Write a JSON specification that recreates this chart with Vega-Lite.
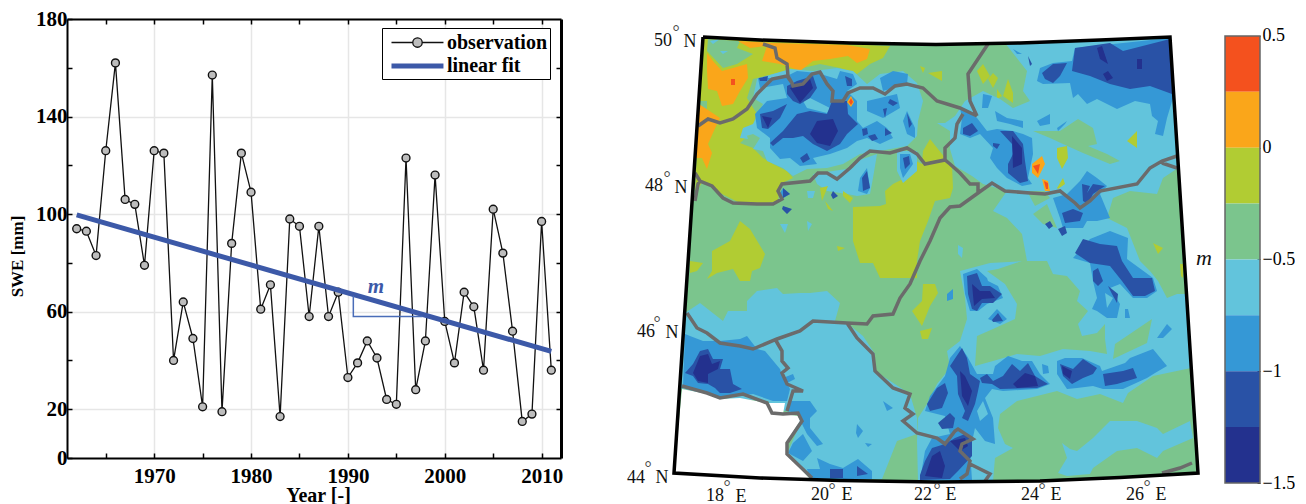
{"$schema":"https://vega.github.io/schema/vega-lite/v6.json","padding":{"left":8,"top":8,"right":0,"bottom":0},"config":{"font":"Liberation Serif","view":{"stroke":null},"axis":{"labelFont":"Liberation Serif","titleFont":"Liberation Serif","labelColor":"#000","titleColor":"#000"}},"spacing":5,"hconcat":[
{"width":494,"height":439,"resolve":{"axis":{"x":"independent","y":"independent"}},"layer":[
{"data":{"name":"obs"},"mark":{"type":"line","color":"#111","strokeWidth":1.3},"encoding":{"x":{"field":"year","type":"quantitative","scale":{"domain":[1961,2012],"nice":false,"zero":false},"axis":{"orient":"bottom","values":[1965,1970,1975,1980,1985,1990,1995,2000,2005,2010],"format":"d","labelExpr":"datum.value%10===0?datum.label:''","title":"Year [-]","titleFontSize":20,"titleFontWeight":"bold","titleX":251,"titleY":27,"labelFontSize":21,"labelFontWeight":"bold","labelPadding":12,"labelOverlap":false,"labelFlush":false,"tickSize":-5,"tickColor":"#000","tickWidth":1.5,"domainColor":"#000","domainWidth":2,"grid":true,"gridColor":"#e6e6e6","gridWidth":1.5,"gridOpacity":{"condition":{"test":"datum.value%10===0","value":1},"value":0}}},"y":{"field":"swe","type":"quantitative","scale":{"domain":[0,180],"nice":false},"axis":{"orient":"left","values":[0,20,40,60,80,100,120,140,160,180],"labelExpr":"datum.value===0||(datum.value-20)%40===0?datum.label:''","title":"SWE [mm]","titleFontSize":17,"titleFontWeight":"bold","titleX":-41,"titleY":237,"labelFontSize":21,"labelFontWeight":"bold","labelPadding":5,"labelOverlap":false,"tickSize":-5,"tickColor":"#000","tickWidth":1.5,"domainColor":"#000","domainWidth":2,"grid":true,"gridColor":"#e6e6e6","gridWidth":1.5,"gridOpacity":{"condition":{"test":"(datum.value-20)%40===0","value":1},"value":0}}}}},
{"data":{"name":"obs"},"mark":{"type":"point","filled":true,"fill":"#BDBDBD","stroke":"#111","strokeWidth":1.4,"opacity":1,"size":62},"encoding":{"x":{"field":"year","type":"quantitative","axis":null},"y":{"field":"swe","type":"quantitative","axis":null}}},
{"data":{"values":[{"year":1962,"swe":99.7},{"year":2011,"swe":43.7}]},"mark":{"type":"line","color":"#3C59A8","strokeWidth":5},"encoding":{"x":{"field":"year","type":"quantitative","axis":{"orient":"top","title":null,"values":[1965,1970,1975,1980,1985,1990,1995,2000,2005,2010],"labels":false,"tickSize":-5,"tickColor":"#000","tickWidth":1.5,"domainColor":"#000","domainWidth":2,"grid":false}},"y":{"field":"swe","type":"quantitative","axis":{"orient":"right","title":null,"values":[20,40,60,80,100,120,140,160],"labels":false,"tickSize":-5,"tickColor":"#000","tickWidth":1.5,"domainColor":"#000","domainWidth":3,"grid":false}}}},
{"data":{"values":[{"year":1990.56,"swe":66.5,"k":0},{"year":1990.56,"swe":58,"k":1},{"year":1997.7,"swe":58,"k":2}]},"mark":{"type":"line","color":"#4A6DB8","strokeWidth":1.5},"encoding":{"x":{"field":"year","type":"quantitative","axis":null},"y":{"field":"swe","type":"quantitative","axis":null},"order":{"field":"k"}}},
{"data":{"values":[{"year":1992.9,"swe":70,"t":"m"}]},"mark":{"type":"text","fontStyle":"italic","fontWeight":"bold","fontSize":21,"color":"#3C59A8"},"encoding":{"x":{"field":"year","type":"quantitative","axis":null},"y":{"field":"swe","type":"quantitative","axis":null},"text":{"field":"t"}}},
{"data":{"values":[]},"mark":{"type":"point","filled":true,"opacity":1},"encoding":{
"shape":{"field":"s","type":"nominal","scale":{"domain":["observation","linear fit"],"range":["M-.62,0H1.407A.45 .45 0 1 1 2.307 0A.45 .45 0 1 1 1.407 0M2.307,0H4.33","M-.62,0H4.33"]},"legend":{"title":null,"orient":"none","legendX":315,"legendY":9,"padding":3,"labelFontSize":20,"labelFontWeight":"bold","labelFont":"Liberation Serif","labelOffset":36,"symbolSize":441,"rowPadding":0,"fillColor":"#fff","strokeColor":"#000","labelColor":"#000"}},
"fill":{"field":"s","type":"nominal","scale":{"domain":["observation","linear fit"],"range":["#BDBDBD","#3C59A8"]},"legend":{"title":null,"orient":"none","legendX":315,"legendY":9,"padding":3,"labelFontSize":20,"labelFontWeight":"bold","labelFont":"Liberation Serif","labelOffset":36,"symbolSize":441,"rowPadding":0,"fillColor":"#fff","strokeColor":"#000","labelColor":"#000"}},
"stroke":{"field":"s","type":"nominal","scale":{"domain":["observation","linear fit"],"range":["#111","#3C59A8"]},"legend":{"title":null,"orient":"none","legendX":315,"legendY":9,"padding":3,"labelFontSize":20,"labelFontWeight":"bold","labelFont":"Liberation Serif","labelOffset":36,"symbolSize":441,"rowPadding":0,"fillColor":"#fff","strokeColor":"#000","labelColor":"#000"}},
"strokeWidth":{"field":"s","type":"nominal","scale":{"domain":["observation","linear fit"],"range":[1.3,5]},"legend":{"title":null,"orient":"none","legendX":315,"legendY":9,"padding":3,"labelFontSize":20,"labelFontWeight":"bold","labelFont":"Liberation Serif","labelOffset":36,"symbolSize":441,"rowPadding":0,"fillColor":"#fff","strokeColor":"#000","labelColor":"#000"}}}}
]},
{"width":651,"height":484,"projection":{"type":"identity","scale":1,"translate":[-568,-18]},"layer":[
{"data":{"name":"fills"},"mark":{"type":"geoshape","strokeWidth":0},"encoding":{"color":{"field":"properties.b","type":"nominal","legend":null,"scale":{"domain":["no data","0.25 to 0.5","0 to 0.25","-0.25 to 0","-0.5 to -0.25","-0.75 to -0.5","-1 to -0.75","-1.25 to -1","-1.5 to -1.25"],"range":["#FFFFFF","#F4511E","#FAA61A","#B1CC33","#7BC58D","#62C4DC","#3598D6","#2952A6","#23318E"]}}}},
{"data":{"values":[{"type":"Feature","properties":{},"geometry":{"type":"MultiLineString","coordinates":[
[[698,125],[708,118],[720,122],[733,118],[747,108],[757,93],[772,78],[787,75],[792,82],[793,85],[803,83],[812,73],[820,71],[827,83],[833,90],[832,100],[843,100],[848,92],[860,87],[873,87],[885,93],[895,85],[907,83],[923,87],[937,100],[960,107],[977,115]],
[[763,43],[775,47],[777,57],[787,63],[788,75],[792,82]],
[[988,43],[968,73],[970,100],[977,115]],
[[963,113],[957,123],[955,137],[945,147],[945,159]],
[[695,172],[700,180],[712,185],[723,197],[733,202],[757,203],[773,203],[782,198],[778,190],[782,183],[810,180],[818,172],[827,172],[837,178],[850,167],[860,157],[870,150],[890,152],[907,147],[917,153],[925,163],[945,159],[950,163],[960,172],[970,183],[978,183],[978,192],[960,205],[950,206],[940,217],[930,240],[920,260],[910,283],[900,297],[893,313],[873,315],[867,323],[847,322],[813,320],[800,330],[777,338],[753,348],[740,345],[720,342],[707,332],[697,327],[687,312]],
[[695,200],[698,183],[700,180]],
[[847,322],[857,337],[873,353],[875,370],[893,387],[910,393],[905,407],[913,413],[903,420],[917,432],[937,437],[945,443],[955,430],[958,428],[973,438],[962,443],[960,450],[970,460],[967,473],[960,478]],
[[970,463],[990,473],[985,480]],
[[775,338],[782,350],[782,360],[788,367],[782,372],[787,383],[803,390],[793,390],[787,410]],
[[682,385],[707,392],[720,397],[743,393],[767,402],[772,412],[783,413],[798,412],[802,420],[787,442],[787,453],[812,477]],
[[978,192],[992,182],[1005,190],[1030,192],[1045,193],[1060,190],[1075,202],[1080,207],[1090,200],[1100,190],[1137,183],[1150,167],[1162,160],[1177,155]],
[[1162,162],[1177,167]],
[[1162,472],[1180,467],[1192,462]]]}}]},"mark":{"type":"geoshape","filled":false,"stroke":"#6B6B6B","strokeWidth":3.5}},
{"data":{"values":[{"type":"Feature","properties":{},"geometry":{"type":"LineString","coordinates":[[703,36],[760,39],[850,42],[936,43.5],[1020,42],[1100,39],[1170,36],[1198,472],[1120,476.5],[1040,480],[936,481],[840,479.5],[760,477],[674,472],[703,36]]}}]},"mark":{"type":"geoshape","filled":false,"stroke":"#000","strokeWidth":3.5}},
{"data":{"name":"labels"},"mark":{"type":"text","fontSize":18,"color":"#111"},"encoding":{"longitude":{"field":"px","type":"quantitative"},"latitude":{"field":"py","type":"quantitative"},"text":{"field":"t"}}},
{"data":{"name":"degrees"},"mark":{"type":"text","fontSize":18,"color":"#444","baseline":"alphabetic","dy":10},"encoding":{"longitude":{"field":"px","type":"quantitative"},"latitude":{"field":"py","type":"quantitative"},"text":{"field":"t"}}},
{"data":{"values":[{"px":1204,"py":257,"t":"m"}]},"mark":{"type":"text","fontSize":22,"fontStyle":"italic","color":"#111"},"encoding":{"longitude":{"field":"px","type":"quantitative"},"latitude":{"field":"py","type":"quantitative"},"text":{"field":"t"}}}
]},
{"width":35,"height":464,"layer":[
{"data":{"name":"bar"},"mark":{"type":"rect","stroke":null},"encoding":{"x":{"value":0},"x2":{"value":35},"y":{"field":"lo","type":"quantitative","scale":{"domain":[-1.5,0.576],"nice":false,"zero":false},"axis":{"orient":"right","values":[0.5,0,-0.5,-1,-1.5],"format":"~g","title":null,"labelFontSize":18,"labelPadding":5,"domain":false,"tickSize":-3,"tickColor":"#111","grid":false,"labelOverlap":false}},"y2":{"field":"hi"},"color":{"field":"band","type":"nominal","legend":null,"scale":{"domain":["0.25 to 0.5","0 to 0.25","-0.25 to 0","-0.5 to -0.25","-0.75 to -0.5","-1 to -0.75","-1.25 to -1","-1.5 to -1.25"],"range":["#F4511E","#FAA61A","#B1CC33","#7BC58D","#62C4DC","#3598D6","#2952A6","#23318E"]}}}},
{"data":{"values":[{"lo":-1.5,"hi":0.5}]},"mark":{"type":"rect","fillOpacity":0,"stroke":"#666","strokeWidth":1.5},"encoding":{"x":{"value":0},"x2":{"value":35},"y":{"field":"lo","type":"quantitative"},"y2":{"field":"hi"}}}
]}
],
"datasets":{
"obs":[{"year":1962,"swe":94},{"year":1963,"swe":93},{"year":1964,"swe":83},{"year":1965,"swe":126},{"year":1966,"swe":162},{"year":1967,"swe":106},{"year":1968,"swe":104},{"year":1969,"swe":79},{"year":1970,"swe":126},{"year":1971,"swe":125},{"year":1972,"swe":40},{"year":1973,"swe":64},{"year":1974,"swe":49},{"year":1975,"swe":21},{"year":1976,"swe":157},{"year":1977,"swe":19},{"year":1978,"swe":88},{"year":1979,"swe":125},{"year":1980,"swe":109},{"year":1981,"swe":61},{"year":1982,"swe":71},{"year":1983,"swe":17},{"year":1984,"swe":98},{"year":1985,"swe":95},{"year":1986,"swe":58},{"year":1987,"swe":95},{"year":1988,"swe":58},{"year":1989,"swe":68},{"year":1990,"swe":33},{"year":1991,"swe":39},{"year":1992,"swe":48},{"year":1993,"swe":41},{"year":1994,"swe":24},{"year":1995,"swe":22},{"year":1996,"swe":123},{"year":1997,"swe":28},{"year":1998,"swe":48},{"year":1999,"swe":116},{"year":2000,"swe":56},{"year":2001,"swe":39},{"year":2002,"swe":68},{"year":2003,"swe":62},{"year":2004,"swe":36},{"year":2005,"swe":102},{"year":2006,"swe":84},{"year":2007,"swe":52},{"year":2008,"swe":15},{"year":2009,"swe":18},{"year":2010,"swe":97},{"year":2011,"swe":36}],
"bar":[{"lo":0.25,"hi":0.5,"band":"0.25 to 0.5"},{"lo":0,"hi":0.25,"band":"0 to 0.25"},{"lo":-0.25,"hi":0,"band":"-0.25 to 0"},{"lo":-0.5,"hi":-0.25,"band":"-0.5 to -0.25"},{"lo":-0.75,"hi":-0.5,"band":"-0.75 to -0.5"},{"lo":-1,"hi":-0.75,"band":"-1 to -0.75"},{"lo":-1.25,"hi":-1,"band":"-1.25 to -1"},{"lo":-1.5,"hi":-1.25,"band":"-1.5 to -1.25"}],
"labels":[{"px":663,"py":40,"t":"50"},{"px":690,"py":41,"t":"N"},{"px":654,"py":185,"t":"48"},{"px":681,"py":187,"t":"N"},{"px":646,"py":331,"t":"46"},{"px":672,"py":332,"t":"N"},{"px":636,"py":477,"t":"44"},{"px":662,"py":477,"t":"N"},{"px":715,"py":495,"t":"18"},{"px":741,"py":496,"t":"E"},{"px":820,"py":494,"t":"20"},{"px":847,"py":494,"t":"E"},{"px":923,"py":494,"t":"22"},{"px":951,"py":494,"t":"E"},{"px":1030,"py":494,"t":"24"},{"px":1056,"py":494,"t":"E"},{"px":1135,"py":494,"t":"26"},{"px":1161,"py":494,"t":"E"}],
"degrees":[{"px":676,"py":27,"t":"°"},{"px":667,"py":173,"t":"°"},{"px":657,"py":318,"t":"°"},{"px":648,"py":463,"t":"°"},{"px":727,"py":482,"t":"°"},{"px":832,"py":485,"t":"°"},{"px":937,"py":485,"t":"°"},{"px":1042,"py":485,"t":"°"},{"px":1147,"py":482,"t":"°"}],
"fills":[
{"type":"Feature","properties":{"b":"-0.5 to -0.25"},"geometry":{"type":"Polygon","coordinates":[[[703,36],[760,39],[850,42],[936,43.5],[1020,42],[1100,39],[1170,36],[1198,472],[1120,476.5],[1040,480],[936,481],[840,479.5],[760,477],[674,472],[703,36]]]}},
{"type":"Feature","properties":{"b":"-0.25 to 0"},"geometry":{"type":"MultiPolygon","coordinates":[
[[[703,37],[890,45],[883,57],[870,63],[857,73],[840,67],[820,63],[790,70],[773,73],[753,78],[747,97],[757,113],[750,133],[740,142],[753,147],[763,157],[773,163],[787,170],[793,177],[780,183],[778,200],[763,203],[740,202],[720,192],[703,180],[695,193],[696,170],[703,37]]],
[[[853,206],[880,205],[886,203],[885,190],[893,183],[903,178],[898,163],[897,153],[910,157],[922,163],[923,150],[930,138],[942,153],[952,165],[953,187],[950,197],[935,200],[928,220],[920,240],[917,260],[917,277],[900,277],[880,277],[873,262],[860,262],[853,240],[853,206]]],
[[[712,250],[730,240],[740,220],[750,228],[765,253],[760,267],[752,270],[750,280],[740,280],[733,268],[717,272],[707,278],[712,270],[712,250]]],
[[[690,260],[703,262],[697,270],[690,272],[690,260]]],
[[[923,283],[935,283],[938,292],[930,305],[922,325],[912,310],[922,300],[923,283]]],
[[[920,330],[932,327],[928,338],[922,338],[920,330]]],
[[[977,70],[983,63],[990,75],[983,83],[977,70]]],
[[[993,72],[998,77],[993,87],[988,78],[993,72]]],
[[[1008,78],[1013,92],[1013,102],[1003,95],[1008,78]]],
[[[997,88],[1002,95],[997,98],[997,88]]],
[[[920,65],[925,67],[923,72],[920,65]]],
[[[928,72],[942,70],[942,80],[928,72]]],
[[[837,245],[845,247],[838,250],[837,245]]]]}},
{"type":"Feature","properties":{"b":"-0.5 to -0.25"},"geometry":{"type":"MultiPolygon","coordinates":[
[[[708,38],[740,40],[737,47],[753,53],[737,63],[723,67],[707,50],[708,38]]],
[[[700,100],[707,100],[707,108],[700,106],[700,100]]]]}},
{"type":"Feature","properties":{"b":"0 to 0.25"},"geometry":{"type":"MultiPolygon","coordinates":[
[[[707,52],[713,60],[722,70],[747,63],[748,77],[740,90],[733,103],[722,105],[717,90],[708,88],[707,70],[707,52]]],
[[[738,40],[773,42],[847,44],[870,48],[867,58],[857,62],[848,55],[830,58],[813,60],[800,70],[787,65],[780,63],[762,60],[767,45],[750,47],[738,40]]],
[[[699,103],[720,117],[717,123],[708,143],[712,152],[707,168],[702,157],[696,157],[699,103]]]]}},
{"type":"Feature","properties":{"b":"0.25 to 0.5"},"geometry":{"type":"Polygon","coordinates":[[[731,78],[735,78],[735,84],[731,84],[731,78]]]}},
{"type":"Feature","properties":{"b":"-0.75 to -0.5"},"geometry":{"type":"MultiPolygon","coordinates":[
[[[757,78],[773,73],[790,68],[813,70],[837,67],[853,70],[867,83],[880,73],[903,70],[917,82],[923,100],[918,120],[917,135],[907,145],[880,150],[860,153],[843,163],[827,167],[807,168],[793,175],[783,167],[767,160],[763,150],[753,148],[760,137],[753,133],[740,137],[743,127],[753,123],[763,103],[753,97],[757,78]]],
[[[813,173],[833,170],[853,167],[857,160],[877,153],[873,177],[870,193],[857,195],[847,193],[827,190],[817,183],[813,173]]],
[[[897,150],[917,150],[917,170],[903,182],[897,170],[897,150]]],
[[[685,312],[700,302],[723,320],[728,310],[747,310],[747,300],[757,290],[777,287],[783,293],[800,292],[810,292],[827,290],[840,302],[835,320],[847,322],[863,335],[875,353],[875,370],[910,393],[917,417],[917,433],[897,440],[882,478],[810,478],[787,453],[797,430],[800,413],[772,407],[768,400],[720,397],[680,387],[685,312]]],
[[[1005,42],[1100,39],[1170,36],[1191,367],[1153,375],[1128,392],[1123,402],[1100,393],[1077,398],[1057,390],[1017,400],[1000,413],[998,427],[1005,443],[1013,447],[995,457],[993,480],[918,480],[917,440],[918,417],[927,403],[937,383],[950,367],[947,350],[960,340],[967,318],[965,297],[960,270],[990,262],[1027,260],[1022,233],[1007,217],[993,210],[1007,190],[983,183],[972,175],[955,165],[950,148],[950,130],[937,122],[945,122],[955,115],[965,100],[983,90],[1000,98],[1013,107],[1030,100],[1023,90],[1027,70],[1005,42]]],
[[[1062,442],[1070,448],[1077,450],[1093,437],[1110,420],[1137,420],[1157,427],[1163,433],[1190,420],[1193,437],[1163,450],[1157,457],[1137,447],[1117,450],[1093,467],[1090,473],[1067,475],[1058,472],[1067,457],[1062,442]]],
[[[807,190],[815,190],[813,197],[808,197],[807,190]]],
[[[780,223],[788,223],[785,232],[780,223]]],
[[[807,220],[812,223],[808,230],[807,220]]],
[[[958,244],[963,247],[962,257],[958,253],[958,244]]],
[[[710,40],[720,38],[713,43],[710,40]]],
[[[720,50],[728,50],[723,53],[720,50]]],
[[[740,137],[745,128],[748,138],[740,137]]]]}},
{"type":"Feature","properties":{"b":"-0.5 to -0.25"},"geometry":{"type":"MultiPolygon","coordinates":[
[[[975,365],[977,335],[993,328],[1015,318],[1017,303],[1005,283],[987,270],[998,268],[1022,260],[1047,260],[1053,273],[1067,275],[1080,290],[1077,300],[1088,310],[1078,323],[1082,335],[1097,332],[1105,323],[1105,338],[1107,353],[1090,350],[1063,348],[1040,355],[1017,353],[993,360],[975,365]]],
[[[1033,130],[1060,130],[1078,118],[1093,127],[1097,143],[1088,145],[1107,153],[1120,160],[1110,163],[1083,152],[1063,143],[1050,137],[1033,130]]],
[[[1113,197],[1130,190],[1157,193],[1163,177],[1178,167],[1183,240],[1186,293],[1177,293],[1167,297],[1158,280],[1150,270],[1140,260],[1127,227],[1107,217],[1113,197]]],
[[[1115,343],[1152,318],[1147,342],[1113,358],[1115,343]]],
[[[1027,190],[1035,205],[1050,197],[1045,190],[1027,190]]],
[[[1033,213],[1047,203],[1057,227],[1043,223],[1033,213]]]]}},
{"type":"Feature","properties":{"b":"-0.25 to 0"},"geometry":{"type":"MultiPolygon","coordinates":[
[[[1057,147],[1067,145],[1068,157],[1062,168],[1057,157],[1057,147]]],
[[[1057,187],[1063,177],[1065,183],[1058,188],[1057,187]]],
[[[1153,242],[1163,247],[1158,253],[1153,242]]],
[[[1127,140],[1137,130],[1137,147],[1127,140]]],
[[[820,187],[828,185],[822,200],[820,187]]],
[[[825,200],[833,210],[828,208],[825,200]]],
[[[843,190],[853,197],[850,202],[843,195],[843,190]]],
[[[1180,263],[1183,263],[1183,277],[1181,275],[1180,263]]]]}},
{"type":"Feature","properties":{"b":"-1 to -0.75"},"geometry":{"type":"MultiPolygon","coordinates":[
[[[758,77],[773,77],[787,75],[797,70],[817,72],[837,78],[840,70],[853,73],[857,83],[847,90],[857,100],[857,120],[863,127],[877,120],[887,127],[893,137],[880,143],[867,137],[857,140],[847,147],[830,153],[813,157],[817,163],[800,165],[790,157],[780,158],[770,147],[770,137],[757,127],[755,113],[767,100],[787,97],[783,83],[760,87],[758,77]]],
[[[867,100],[880,97],[897,93],[900,107],[883,117],[867,110],[867,100]]],
[[[907,110],[915,127],[915,137],[907,133],[903,120],[907,110]]],
[[[880,77],[893,70],[908,73],[907,83],[883,90],[880,77]]],
[[[900,153],[910,153],[913,163],[903,177],[900,167],[900,153]]],
[[[860,177],[867,167],[870,187],[867,193],[858,190],[860,177]]],
[[[783,187],[790,193],[783,197],[780,192],[783,187]]],
[[[685,333],[690,335],[703,340],[720,340],[740,338],[747,335],[757,348],[765,350],[780,368],[783,377],[793,373],[795,378],[787,382],[790,388],[787,400],[773,400],[753,393],[720,397],[683,385],[685,333]]],
[[[790,400],[810,400],[817,410],[810,417],[810,427],[823,443],[817,445],[807,433],[802,423],[800,413],[787,410],[790,400]]],
[[[803,433],[812,450],[803,460],[788,452],[793,442],[803,433]]],
[[[817,457],[830,463],[843,467],[858,458],[872,470],[872,478],[810,478],[807,468],[820,468],[817,457]]],
[[[883,400],[893,407],[887,410],[883,400]]],
[[[857,423],[863,430],[858,437],[856,432],[857,423]]],
[[[865,442],[872,443],[868,446],[865,442]]],
[[[950,357],[960,345],[967,355],[977,373],[993,373],[995,365],[1008,355],[1022,360],[1032,360],[1040,373],[1050,383],[1037,388],[1003,390],[992,388],[985,397],[993,417],[995,443],[985,440],[975,427],[970,450],[972,479],[920,479],[925,450],[932,437],[950,433],[945,415],[925,410],[930,395],[945,375],[950,357]]],
[[[1057,360],[1065,357],[1082,357],[1100,365],[1102,370],[1125,362],[1130,357],[1153,348],[1167,365],[1155,372],[1147,377],[1123,388],[1103,388],[1093,385],[1077,387],[1067,388],[1057,373],[1057,360]]],
[[[1042,363],[1048,365],[1049,372],[1043,373],[1042,363]]],
[[[963,273],[977,268],[987,277],[988,280],[998,285],[1003,297],[987,303],[978,310],[970,310],[965,293],[963,273]]],
[[[988,318],[997,308],[1007,318],[1000,323],[988,318]]],
[[[1075,47],[1123,42],[1170,37],[1173,97],[1167,117],[1163,135],[1155,133],[1158,120],[1152,115],[1150,103],[1135,100],[1117,108],[1097,98],[1087,103],[1078,93],[1073,97],[1070,82],[1043,83],[1037,80],[1040,67],[1053,62],[1072,60],[1075,47]]],
[[[1013,48],[1022,53],[1017,53],[1013,48]]],
[[[960,107],[967,110],[977,117],[987,130],[997,128],[1013,130],[1023,133],[1032,137],[1033,153],[1028,177],[1032,183],[1022,185],[1007,177],[997,167],[990,157],[993,147],[980,133],[970,137],[960,133],[962,117],[960,107]]],
[[[983,93],[992,95],[988,107],[982,107],[983,93]]],
[[[995,110],[1007,117],[1023,120],[1023,127],[1010,123],[997,120],[995,110]]],
[[[1037,120],[1050,113],[1050,123],[1040,125],[1037,120]]],
[[[1057,127],[1067,120],[1065,123],[1058,130],[1057,127]]],
[[[1053,197],[1067,193],[1080,180],[1087,170],[1097,177],[1107,185],[1100,193],[1110,217],[1097,220],[1087,220],[1083,227],[1063,227],[1060,217],[1053,197]]],
[[[1073,257],[1090,238],[1110,230],[1128,237],[1127,258],[1153,277],[1157,290],[1147,297],[1133,297],[1120,283],[1110,287],[1120,303],[1117,317],[1107,317],[1097,310],[1092,308],[1097,297],[1093,280],[1090,262],[1073,257]]],
[[[1125,308],[1128,308],[1130,317],[1125,317],[1125,308]]],
[[[1157,337],[1167,323],[1172,328],[1163,337],[1157,337]]],
[[[947,293],[953,288],[953,298],[947,300],[947,293]]]]}},
{"type":"Feature","properties":{"b":"-0.75 to -0.5"},"geometry":{"type":"MultiPolygon","coordinates":[
[[[803,100],[810,97],[830,107],[827,112],[807,107],[803,100]]],
[[[977,410],[983,400],[988,413],[980,420],[977,410]]],
[[[1105,292],[1113,297],[1107,307],[1105,292]]]]}},
{"type":"Feature","properties":{"b":"-1.25 to -1"},"geometry":{"type":"MultiPolygon","coordinates":[
[[[787,85],[797,80],[813,75],[817,87],[810,97],[800,103],[793,100],[787,93],[787,85]]],
[[[760,113],[773,110],[787,103],[780,117],[768,128],[762,127],[760,113]]],
[[[770,142],[783,130],[797,113],[810,110],[827,113],[832,100],[847,100],[848,113],[858,123],[847,133],[840,143],[827,150],[813,143],[803,135],[793,137],[783,137],[773,145],[770,142]]],
[[[800,157],[807,152],[810,158],[803,162],[800,157]]],
[[[862,128],[867,127],[868,133],[863,135],[862,128]]],
[[[868,135],[875,133],[878,138],[872,140],[868,135]]],
[[[890,98],[898,102],[893,105],[888,102],[890,98]]],
[[[885,127],[892,132],[885,135],[885,127]]],
[[[759,77],[768,75],[767,80],[760,80],[759,77]]],
[[[845,75],[852,78],[852,85],[847,85],[845,75]]],
[[[903,157],[909,155],[910,163],[905,168],[903,157]]],
[[[862,177],[867,170],[870,187],[863,190],[862,177]]],
[[[783,187],[790,193],[783,197],[783,187]]],
[[[783,205],[792,208],[787,213],[782,208],[783,205]]],
[[[833,190],[838,195],[833,198],[831,194],[833,190]]],
[[[907,112],[912,123],[909,127],[907,112]]],
[[[883,108],[887,107],[885,117],[883,108]]],
[[[685,372],[693,363],[700,350],[708,348],[713,358],[723,358],[720,368],[730,368],[733,383],[742,388],[730,392],[720,392],[715,387],[708,383],[698,382],[693,375],[685,372]]],
[[[830,468],[843,468],[843,477],[830,477],[830,468]]],
[[[857,465],[868,473],[857,475],[857,465]]],
[[[1075,47],[1110,42],[1123,50],[1170,38],[1172,93],[1150,85],[1130,88],[1110,83],[1090,75],[1072,70],[1075,47]]],
[[[1042,72],[1053,63],[1067,62],[1060,75],[1053,82],[1045,78],[1042,72]]],
[[[1028,55],[1032,63],[1030,65],[1028,55]]],
[[[1000,130],[1013,130],[1023,143],[1025,160],[1028,180],[1020,182],[1008,172],[1008,163],[1013,153],[1012,143],[1000,130]]],
[[[963,127],[972,122],[978,130],[970,135],[963,133],[963,127]]],
[[[993,142],[1000,143],[997,148],[993,145],[993,142]]],
[[[1062,212],[1073,208],[1083,212],[1080,220],[1065,222],[1062,212]]],
[[[1082,183],[1090,185],[1087,192],[1093,183],[1105,185],[1093,193],[1088,203],[1083,200],[1082,183]]],
[[[1045,223],[1050,220],[1053,225],[1049,228],[1045,223]]],
[[[1058,228],[1065,225],[1067,232],[1062,235],[1058,228]]],
[[[1075,252],[1083,238],[1100,243],[1117,245],[1122,260],[1133,277],[1152,277],[1155,290],[1145,295],[1133,295],[1122,280],[1110,265],[1090,262],[1075,252]]],
[[[1093,270],[1098,267],[1103,280],[1098,285],[1093,280],[1093,270]]],
[[[1108,285],[1118,293],[1117,302],[1112,293],[1108,285]]],
[[[967,275],[977,272],[982,285],[990,285],[1002,293],[993,302],[982,302],[977,310],[972,308],[968,293],[967,275]]],
[[[992,319],[998,312],[1003,320],[993,321],[992,319]]],
[[[980,377],[987,373],[993,380],[1003,375],[1012,363],[1020,370],[1028,362],[1035,375],[1048,383],[1037,387],[1000,388],[992,383],[982,382],[980,377]]],
[[[1060,363],[1073,368],[1083,358],[1097,367],[1093,373],[1083,377],[1072,383],[1063,375],[1060,363]]],
[[[1103,373],[1123,370],[1133,367],[1137,377],[1117,383],[1105,385],[1103,373]]],
[[[962,347],[967,357],[970,373],[980,380],[978,390],[975,403],[968,420],[962,417],[965,410],[958,393],[957,375],[950,365],[962,347]]],
[[[927,403],[937,387],[945,382],[948,392],[942,407],[930,410],[927,403]]],
[[[938,422],[950,412],[955,417],[953,427],[942,428],[938,422]]],
[[[920,474],[925,460],[932,447],[945,443],[955,437],[965,433],[972,440],[972,455],[958,470],[950,478],[920,479],[920,474]]]]}},
{"type":"Feature","properties":{"b":"-1.5 to -1.25"},"geometry":{"type":"MultiPolygon","coordinates":[
[[[810,133],[817,120],[833,118],[838,130],[830,145],[817,142],[810,133]]],
[[[762,115],[772,117],[768,127],[762,115]]],
[[[790,87],[810,78],[813,87],[800,102],[790,87]]],
[[[693,372],[700,355],[708,353],[712,363],[720,360],[718,368],[708,373],[708,382],[698,380],[693,372]]],
[[[1097,47],[1102,45],[1108,63],[1100,58],[1097,47]]],
[[[1137,58],[1142,58],[1142,68],[1137,68],[1137,58]]],
[[[1103,73],[1108,70],[1113,77],[1107,80],[1103,73]]],
[[[1012,135],[1022,147],[1022,163],[1013,167],[1012,135]]],
[[[1013,383],[1025,372],[1035,375],[1038,385],[1017,387],[1013,383]]],
[[[1062,365],[1072,370],[1070,378],[1063,373],[1062,365]]],
[[[960,370],[965,375],[972,390],[968,405],[962,395],[960,370]]],
[[[925,475],[932,455],[940,450],[945,465],[942,477],[925,475]]],
[[[950,440],[965,437],[968,445],[960,450],[950,440]]],
[[[972,283],[980,290],[990,290],[995,297],[982,298],[974,305],[972,283]]]]}},
{"type":"Feature","properties":{"b":"0 to 0.25"},"geometry":{"type":"MultiPolygon","coordinates":[
[[[851,95],[854,101],[851,106],[847,101],[851,95]]],
[[[1032,163],[1042,155],[1045,163],[1038,177],[1032,172],[1032,163]]],
[[[1042,178],[1048,180],[1050,190],[1045,190],[1042,178]]]]}},
{"type":"Feature","properties":{"b":"0.25 to 0.5"},"geometry":{"type":"MultiPolygon","coordinates":[
[[[851,97],[853,101],[851,104],[849,101],[851,97]]],
[[[1033,165],[1040,163],[1038,173],[1033,165]]],
[[[1044,180],[1048,182],[1048,188],[1046,188],[1044,180]]]]}},
{"type":"Feature","properties":{"b":"no data"},"geometry":{"type":"Polygon","coordinates":[[[682,388],[707,393],[720,398],[740,397],[767,402],[770,402],[785,402],[783,413],[798,415],[800,420],[787,440],[787,453],[810,478],[760,477],[674,472],[682,388]]]}}
]}
}
